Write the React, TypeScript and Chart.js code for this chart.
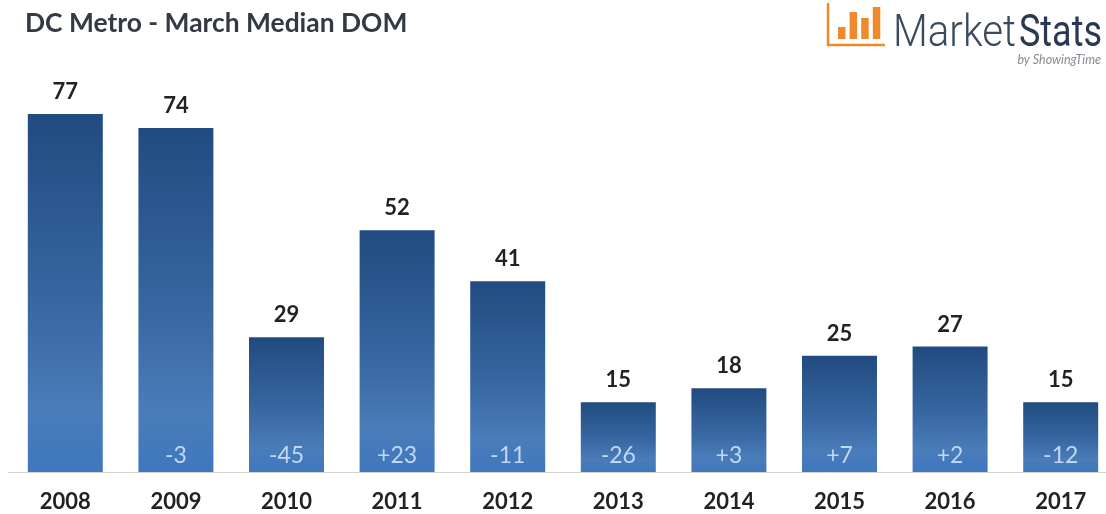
import React, { useEffect, useRef } from "react";
import { Chart, registerables } from "chart.js";

Chart.register(...registerables);

const years = ["2008", "2009", "2010", "2011", "2012", "2013", "2014", "2015", "2016", "2017"];
const medianDom = [77, 74, 29, 52, 41, 15, 18, 25, 27, 15];
const changes = ["", "-3", "-45", "+23", "-11", "-26", "+3", "+7", "+2", "-12"];
const logoBars = [12, 27, 21, 32];

const SANS = "Lato, 'Open Sans', sans-serif";

// Value above each bar, year-over-year change inside its foot.
const barLabels = {
  id: "barLabels",
  afterDatasetsDraw(chart: Chart) {
    const { ctx } = chart;
    const meta = chart.getDatasetMeta(0);
    ctx.save();
    ctx.textAlign = "center";
    ctx.textBaseline = "middle";
    meta.data.forEach((bar: any, i: number) => {
      ctx.font = `bold 22px ${SANS}`;
      ctx.fillStyle = "#222222";
      ctx.fillText(String(medianDom[i]), bar.x, bar.y - 22);
      ctx.font = `23px ${SANS}`;
      ctx.fillStyle = "#c0d9f2";
      if (changes[i]) ctx.fillText(changes[i], bar.x, chart.chartArea.bottom - 16);
    });
    ctx.restore();
  },
};

// Heading, baseline and the brand mark in the top right corner.
const decorations = {
  id: "decorations",
  afterDraw(chart: Chart) {
    const { ctx, chartArea } = chart;
    ctx.save();
    ctx.strokeStyle = "#d8d4d0";
    ctx.lineWidth = 1;
    ctx.beginPath();
    ctx.moveTo(8, chartArea.bottom + 0.5);
    ctx.lineTo(1106, chartArea.bottom + 0.5);
    ctx.stroke();

    ctx.textBaseline = "alphabetic";
    ctx.textAlign = "left";
    ctx.font = `bold 26.4px ${SANS}`;
    ctx.fillStyle = "#333a45";
    ctx.fillText("DC Metro - March Median DOM", 25, 32);

    ctx.strokeStyle = "#ee8a2c";
    ctx.lineWidth = 2.5;
    ctx.beginPath();
    ctx.moveTo(828, 3);
    ctx.lineTo(828, 45);
    ctx.lineTo(885, 45);
    ctx.stroke();
    ctx.fillStyle = "#ee8a2c";
    logoBars.forEach((h, i) => ctx.fillRect(838 + i * 11.6, 39 - h, 7.5, h));

    ctx.fillStyle = "#3a4a5e";
    ctx.font = "300 44px Roboto, sans-serif";
    ctx.fillText("Market", 893, 46, 123);
    ctx.font = "400 44px Roboto, sans-serif";
    ctx.fillStyle = "#2a3850";
    ctx.fillText("Stats", 1019, 46, 83);
    ctx.font = `italic 12.5px ${SANS}`;
    ctx.fillStyle = "#868b92";
    ctx.textAlign = "right";
    ctx.fillText("by ShowingTime", 1101, 64);
    ctx.restore();
  },
};

export default function App() {
  const canvasRef = useRef<HTMLCanvasElement>(null);

  useEffect(() => {
    const chart = new Chart(canvasRef.current!, {
      type: "bar",
      data: {
        labels: years,
        datasets: [
          {
            data: medianDom,
            barPercentage: 0.678,
            categoryPercentage: 1,
            backgroundColor: (c: any) => {
              const { ctx, chartArea, scales } = c.chart;
              if (!chartArea || c.parsed == null) return "#4a7ebb";
              const top = scales.y.getPixelForValue(c.parsed.y);
              const g = ctx.createLinearGradient(0, top, 0, chartArea.bottom);
              g.addColorStop(0, "#214b80");
              g.addColorStop(0.5, "#36659f");
              g.addColorStop(0.82, "#4a7cb9");
              g.addColorStop(1, "#3f78bf");
              return g;
            },
          },
        ],
      },
      options: {
        responsive: false,
        animation: false,
        layout: { padding: { left: 10, top: 7, right: 0, bottom: 0 } },
        plugins: { legend: { display: false }, tooltip: { enabled: false } },
        scales: {
          x: {
            grid: { display: false },
            border: { display: false },
            afterFit: (axis: any) => {
              axis.height = 42;
            },
            ticks: {
              color: "#222222",
              font: { family: SANS, size: 22, weight: "bold" },
              padding: 9,
              maxRotation: 0,
              autoSkip: false,
            },
          },
          y: { display: false, min: 0, max: 100 },
        },
      },
      plugins: [barLabels, decorations],
    } as any);
    return () => chart.destroy();
  }, []);

  return (
    <div style={{ position: "fixed", inset: 0, overflow: "hidden", background: "#ffffff" }}>
      <canvas ref={canvasRef} width={1116} height={514} style={{ display: "block" }} />
    </div>
  );
}
